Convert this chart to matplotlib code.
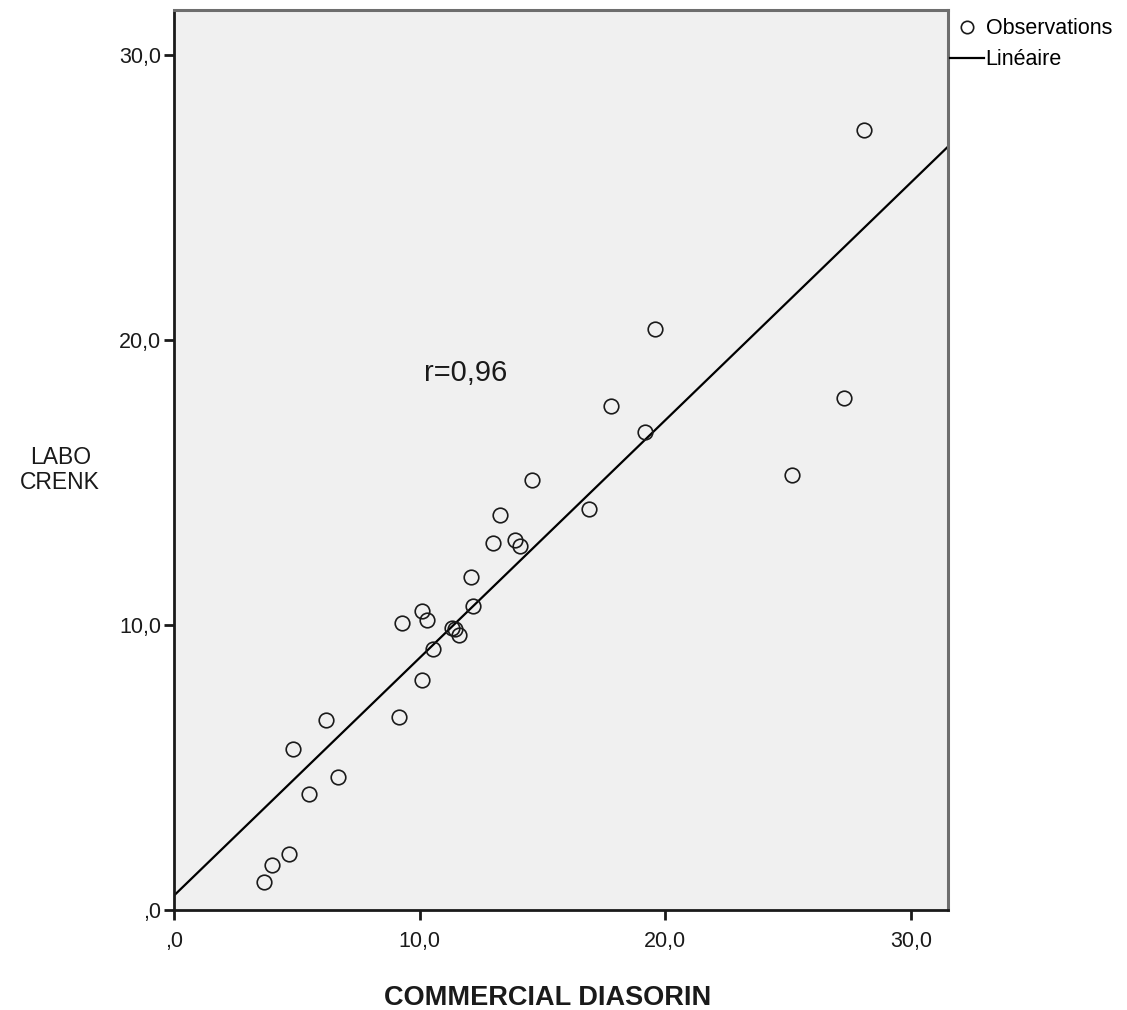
import numpy as np
import matplotlib
matplotlib.use('Agg')
import matplotlib.pyplot as plt
from matplotlib.ticker import FuncFormatter

plt.rcParams['font.family'] = ['Liberation Sans', 'DejaVu Sans']

# valeurs
diasorin = [3.66, 3.99, 4.68, 5.49, 6.67, 4.84, 6.19, 9.16, 10.09, 10.54,
            9.28, 10.30, 10.09, 11.31, 11.45, 11.60, 12.17, 12.09, 12.98, 13.88,
            14.08, 13.27, 14.57, 16.89, 17.79, 19.17, 19.58, 25.15, 27.27, 28.08]
crenk = [0.98, 1.58, 1.96, 4.07, 4.67, 5.65, 6.67, 6.77, 8.07, 9.16,
         10.07, 10.18, 10.49, 9.89, 9.85, 9.66, 10.67, 11.68, 12.88, 12.98,
         12.77, 13.86, 15.09, 14.07, 17.68, 16.77, 20.39, 15.26, 17.96, 27.37]
ticks = [0, 10, 20, 30]
r_text = 'r=0,96'


def fmt(v, pos):
    s = '{:.1f}'.format(v).replace('.', ',')
    if s.startswith('0,'):
        s = s[1:]
    return s


fig = plt.figure(figsize=(11.27, 10.10), dpi=100)
ax = fig.add_axes([174 / 1127, 100 / 1010, 774 / 1127, 900 / 1010])
ax.set_facecolor('#f0f0f0')

xmin, xmax = 0, 31.5
ax.set_xlim(xmin, xmax)
ax.set_ylim(0, 31.58)

ax.plot(diasorin, crenk, linestyle='none', marker='o', markersize=10.5,
        markerfacecolor='none', markeredgecolor='#1a1a1a', markeredgewidth=1.2,
        label='Observations', zorder=3)

slope, intercept = np.polyfit(diasorin, crenk, 1)
xs = np.array([xmin, xmax])
ax.plot(xs, intercept + slope * xs, color='black', linewidth=1.6, label='Linéaire', zorder=2)

ax.text(10.17, 18.84, r_text, fontsize=21, ha='left', va='center', color='#1a1a1a')

ax.set_xticks(ticks)
ax.set_yticks(ticks)
ax.xaxis.set_major_formatter(FuncFormatter(fmt))
ax.yaxis.set_major_formatter(FuncFormatter(fmt))
ax.tick_params(direction='out', length=7, width=2, labelsize=15.5, colors='#1a1a1a')
ax.tick_params(axis='x', pad=8)
ax.tick_params(axis='y', pad=2)

for side in ['left', 'bottom']:
    ax.spines[side].set_color('#1a1a1a')
    ax.spines[side].set_linewidth(2)
for side in ['top', 'right']:
    ax.spines[side].set_color('#6e6e6e')
    ax.spines[side].set_linewidth(2.2)

ax.set_xlabel('COMMERCIAL DIASORIN', fontsize=19.5, fontweight='bold', color='#1a1a1a')
ax.xaxis.set_label_coords(0.483, -0.083)
ax.set_ylabel('LABO\nCRENK', fontsize=16.5, rotation=0, ha='center', va='center',
              color='#1a1a1a', linespacing=1.1)
ax.yaxis.set_label_coords(-0.147, 0.489)

ax.legend(loc='upper left', bbox_to_anchor=(1.0, 0.993), frameon=False,
          borderaxespad=0, borderpad=0.1, handlelength=1.55, handletextpad=0.1,
          labelspacing=0.45, fontsize=15.5, markerscale=0.85)

fig.savefig('out.png', dpi=100)
